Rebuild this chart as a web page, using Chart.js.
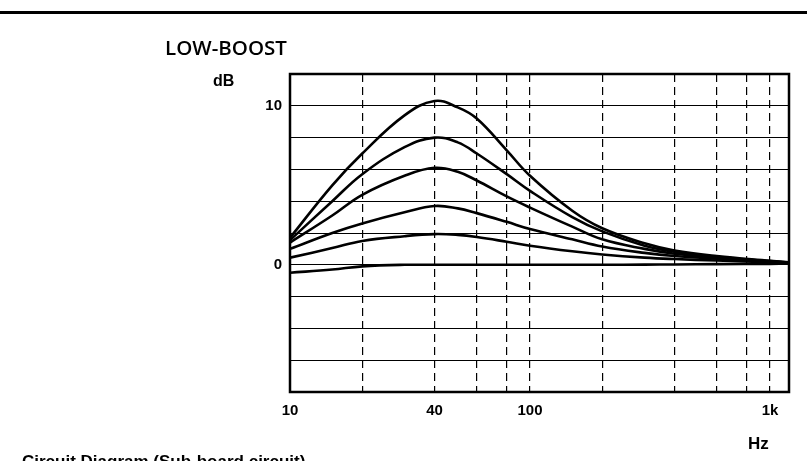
<!DOCTYPE html>
<html>
<head>
<meta charset="utf-8">
<script src="https://cdn.jsdelivr.net/npm/chart.js@4.4.1/dist/chart.umd.min.js"></script>
<style>
  body { margin: 0; background: #fff; }
  #wrap { position: relative; width: 807px; height: 461px; overflow: hidden; }
  #rule { position: absolute; left: 0; top: 11px; width: 807px; height: 3px; background: #000; }
  .lbl { position: absolute; color: #000; white-space: nowrap; line-height: 1; }
  #title { left: 165px; top: 33px; font: 600 20.5px "Open Sans", sans-serif; }
  #unitY { left: 213px; top: 72px; font: bold 16px "Liberation Sans", Arial, sans-serif; }
  #unitX { left: 748px; top: 434px; font: bold 17px "Liberation Sans", Arial, sans-serif; }
  #caption { left: 22px; top: 452px; font: bold 17px "Liberation Sans", Arial, sans-serif; }
</style>
</head>
<body>
<div id="wrap">
  <div id="rule"></div>
  <div class="lbl" id="title">LOW-BOOST</div>
  <div class="lbl" id="unitY">dB</div>
  <div class="lbl" id="unitX">Hz</div>
  <div class="lbl" id="caption">Circuit Diagram (Sub-board circuit)</div>
  <canvas id="eqChart"></canvas>
</div>
<script>
// frequencies (Hz) and boost curves (dB)
const freqs = [10, 15, 20, 30, 40, 50, 60, 80, 100, 150, 200, 300, 400, 600, 1000, 1200];
const boost5 = [1.7, 5.0, 7.0, 9.4, 10.3, 9.9, 9.2, 7.2, 5.6, 3.4, 2.3, 1.35, 0.9, 0.55, 0.25, 0.15];
const boost4 = [1.55, 4.0, 5.7, 7.4, 8.0, 7.7, 7.0, 5.7, 4.65, 3.0, 2.1, 1.2, 0.82, 0.5, 0.23, 0.14];
const boost3 = [1.4, 3.1, 4.4, 5.6, 6.1, 5.85, 5.3, 4.3, 3.6, 2.4, 1.6, 1.0, 0.7, 0.45, 0.21, 0.13];
const boost2 = [1.0, 2.0, 2.6, 3.3, 3.7, 3.55, 3.25, 2.7, 2.25, 1.6, 1.15, 0.75, 0.55, 0.38, 0.19, 0.12];
const boost1 = [0.45, 1.05, 1.5, 1.8, 1.93, 1.88, 1.75, 1.45, 1.2, 0.85, 0.65, 0.45, 0.36, 0.27, 0.16, 0.11];
const boost0 = [-0.5, -0.3, -0.1, 0, 0, 0, 0, 0, 0, 0, 0, 0.01, 0.02, 0.04, 0.06, 0.07];

// grid positions and which of them get a label
const xTicks = [10, 20, 40, 60, 80, 100, 200, 400, 600, 800, 1000];
const xLabels = { 10: '10', 40: '40', 100: '100', 1000: '1k' };
const yLabels = [0, 10];

const curves = [boost5, boost4, boost3, boost2, boost1, boost0];

const frame = {
  id: 'frame',
  afterDatasetsDraw(chart) {
    const { ctx, chartArea: a } = chart;
    ctx.save();
    ctx.strokeStyle = '#000';
    ctx.lineWidth = 2.5;
    ctx.strokeRect(a.left, a.top, a.right - a.left, a.bottom - a.top);
    ctx.restore();
  }
};

const tickFont = { family: '"Liberation Sans", Arial, sans-serif', size: 15, weight: 'bold' };

new Chart(document.getElementById('eqChart'), {
  type: 'line',
  data: {
    datasets: curves.map(vals => ({
      data: vals.map((v, i) => ({ x: freqs[i], y: v })),
      borderColor: '#000',
      borderWidth: 2.6,
      pointRadius: 0,
      tension: 0.4,
      fill: false
    }))
  },
  options: {
    responsive: true,
    maintainAspectRatio: false,
    animation: false,
    events: [],
    layout: { padding: { left: 250, right: 18, top: 74, bottom: 39 } },
    plugins: { legend: { display: false }, tooltip: { enabled: false } },
    scales: {
      x: {
        type: 'logarithmic',
        min: 10,
        max: 1200,
        afterBuildTicks: axis => { axis.ticks = xTicks.map(v => ({ value: v })); },
        afterFit: axis => { axis.height = 30; },
        grid: { color: '#000', lineWidth: 1.2, drawTicks: false },
        border: { display: false, dash: [8, 5] },
        ticks: {
          autoSkip: false,
          maxRotation: 0,
          padding: 10,
          color: '#000',
          font: tickFont,
          callback: v => xLabels[v] || ''
        }
      },
      y: {
        min: -8,
        max: 12,
        afterFit: axis => { axis.width = 40; },
        grid: { color: '#000', lineWidth: 1, drawTicks: false },
        border: { display: false },
        ticks: {
          stepSize: 2,
          padding: 8,
          color: '#000',
          font: tickFont,
          callback: v => yLabels.includes(v) ? String(v) : ''
        }
      }
    }
  },
  plugins: [frame]
});
</script>
</body>
</html>
